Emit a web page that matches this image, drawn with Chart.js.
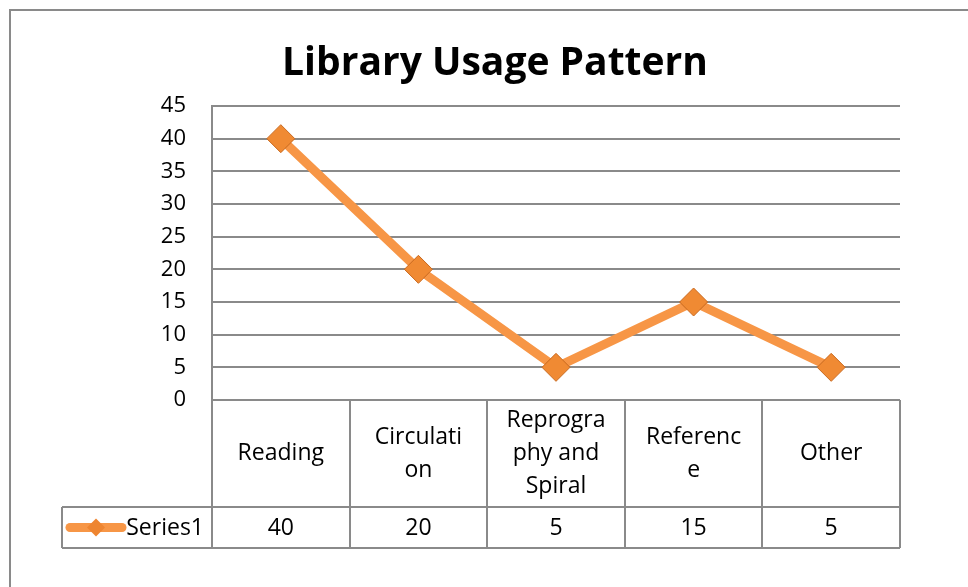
<!DOCTYPE html>
<html>
<head>
<meta charset="utf-8">
<script src="https://cdn.jsdelivr.net/npm/chart.js@4.4.0/dist/chart.umd.min.js"></script>
<style>
  html, body { margin: 0; padding: 0; background: #fff; }
  canvas { display: block; }
</style>
</head>
<body>
<canvas id="usage" width="968" height="587"></canvas>
<script>
// category labels, wrapped the way the data table shows them
const categories = [['Reading'], ['Circulati', 'on'], ['Reprogra', 'phy and', 'Spiral'], ['Referenc', 'e'], ['Other']]
const series1 = [40, 20, 5, 15, 5]
const seriesName = 'Series1'
const yMin = 0
const yMax = 45
const yStep = 5

const FONT = "'Open Sans', 'Noto Sans', sans-serif"
const GRID = '#8a8a8a'
const ORANGE = '#F79646'

function line(ctx, x1, y1, x2, y2) {
    ctx.beginPath()
    ctx.moveTo(x1, y1)
    ctx.lineTo(x2, y2)
    ctx.stroke()
}

// outer frame + the data table under the plot
const frameAndTable = {
    id: 'frameAndTable',
    beforeDraw(chart) {
        const ctx = chart.ctx
        ctx.save()
        ctx.strokeStyle = GRID
        ctx.lineWidth = 2
        ctx.beginPath()
        ctx.moveTo(10, chart.height)
        ctx.lineTo(10, 10)
        ctx.lineTo(chart.width, 10)
        ctx.stroke()
        ctx.restore()
    },
    afterDraw(chart) {
        const ctx = chart.ctx
        const area = chart.chartArea
        const x = chart.scales.x
        const n = categories.length
        const colW = (area.right - area.left) / n
        const headTop = area.bottom
        const headBot = headTop + 107
        const rowBot = headBot + 41
        const legendLeft = 62

        ctx.save()
        ctx.strokeStyle = GRID
        ctx.lineWidth = 2
        line(ctx, area.left, headTop, area.right, headTop)
        line(ctx, legendLeft, headBot, area.right, headBot)
        line(ctx, legendLeft, rowBot, area.right, rowBot)
        for (let i = 0; i <= n; i++) {
            const xx = Math.round(area.left + i * colW)
            line(ctx, xx, headTop, xx, rowBot)
        }
        line(ctx, legendLeft, headBot, legendLeft, rowBot)

        ctx.fillStyle = '#000'
        ctx.font = '23px ' + FONT
        ctx.textAlign = 'center'
        ctx.textBaseline = 'middle'
        const lh = 33
        categories.forEach((lines, i) => {
            const cx = x.getPixelForValue(i)
            const startY = (headTop + headBot) / 2 - (lines.length - 1) * lh / 2
            lines.forEach((t, j) => ctx.fillText(t, cx, startY + j * lh))
            ctx.fillText(String(series1[i]), cx, (headBot + rowBot) / 2 + 1)
        })

        // legend key in the table
        const ly = (headBot + rowBot) / 2
        ctx.strokeStyle = ORANGE
        ctx.lineWidth = 9
        ctx.lineCap = 'round'
        line(ctx, 70, ly, 122, ly)
        ctx.fillStyle = '#EE8530'
        ctx.beginPath()
        ctx.moveTo(96, ly - 9)
        ctx.lineTo(105, ly)
        ctx.lineTo(96, ly + 9)
        ctx.lineTo(87, ly)
        ctx.closePath()
        ctx.fill()
        ctx.fillStyle = '#000'
        ctx.textAlign = 'right'
        ctx.fillText(seriesName, 204, ly + 1)
        ctx.restore()
    }
}

const chart = new Chart('usage', {
    type: 'line',
    data: {
        labels: categories,
        datasets: [{
            label: seriesName,
            data: series1,
            borderColor: ORANGE,
            borderWidth: 9,
            tension: 0,
            pointStyle: 'rectRot',
            pointRadius: 14,
            pointHoverRadius: 14,
            pointBackgroundColor: '#F08A33',
            pointBorderColor: '#C8691F',
            pointBorderWidth: 1,
        }]
    },
    options: {
        responsive: false,
        animation: false,
        layout: { padding: { left: 90, right: 68, top: 0, bottom: 0 } },
        plugins: {
            legend: { display: false },
            tooltip: { enabled: false },
            title: {
                display: true,
                text: 'Library Usage Pattern',
                color: '#000',
                font: { family: FONT, size: 39, weight: 'bold', lineHeight: '48px' },
                padding: { top: 40, bottom: 18 }
            }
        },
        scales: {
            x: {
                offset: true,
                ticks: { display: false },
                grid: { display: false },
                border: { display: false },
                afterFit(s) { s.height = 187 }
            },
            y: {
                min: yMin,
                max: yMax,
                ticks: { stepSize: yStep, color: '#000', padding: 26, font: { family: FONT, size: 22 } },
                grid: { color: GRID, lineWidth: 2, drawTicks: false },
                border: { color: GRID, width: 2 },
                afterFit(s) { s.width = 122 }
            }
        }
    },
    plugins: [frameAndTable]
})
</script>
</body>
</html>
